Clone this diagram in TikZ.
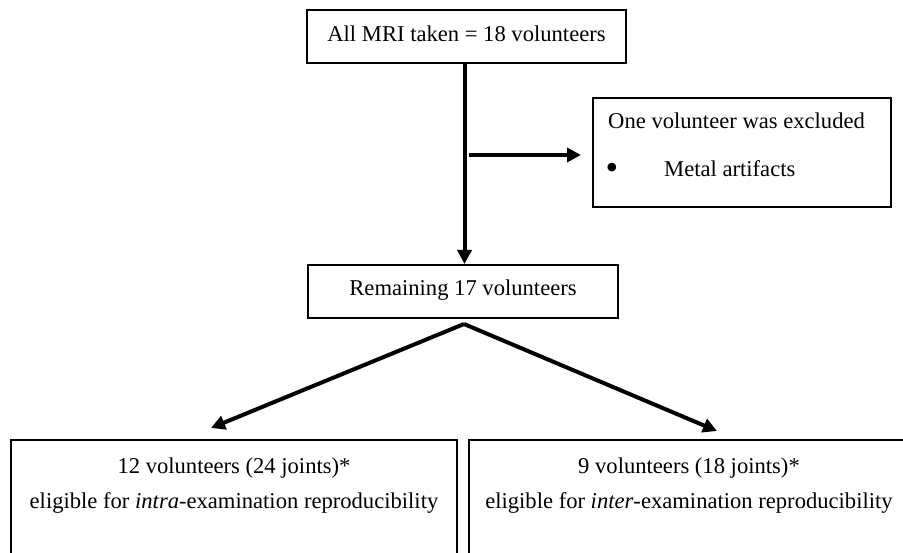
\documentclass[tikz,border=0pt]{standalone}
\usepackage{fontspec}
\setmainfont{Liberation Serif}
\usetikzlibrary{arrows.meta}
\begin{document}
\begin{tikzpicture}[x=1pt,y=-1pt,
  box/.style={draw, line width=2pt, inner sep=0pt},
  txt/.style={inner sep=0pt, font=\fontsize{22.6pt}{26pt}\selectfont},
  conn/.style={line width=4pt, -{Triangle[length=14pt,width=14pt]}}]
\useasboundingbox (0,0) rectangle (903,553);
\clip (0,0) rectangle (903,553);
% boxes
\node[box, minimum width=319pt, minimum height=53pt] (top) at (466.5,36.5) {};
\node[txt, anchor=base] (toptxt) at (466.5,42) {All MRI taken = 18 volunteers};
\node[box, minimum width=310pt, minimum height=53pt] (rem) at (463,291.5) {};
\node[txt, anchor=base] (remtxt) at (463,296) {Remaining 17 volunteers};
\node[box, minimum width=298pt, minimum height=109pt] (excl) at (742,152.5) {};
\node[txt, anchor=base west] (excla) at (608,129) {One volunteer was excluded};
\node[txt, anchor=center, font=\fontsize{36pt}{40pt}\selectfont] (exclb) at (612,171) {•};
\node[txt, anchor=base west] (exclc) at (664,177) {Metal artifacts};
\node[box, minimum width=446pt, minimum height=160pt] (left) at (234,520) {};
\node[txt, anchor=base] (lefta) at (234,473) {12 volunteers (24 joints)*};
\node[txt, anchor=base] (leftb) at (234,508) {eligible for \textit{intra}-examination reproducibility};
\node[box, minimum width=440pt, minimum height=160pt] (right) at (689,520) {};
\node[txt, anchor=base] (righta) at (689,473) {9 volunteers (18 joints)*};
\node[txt, anchor=base] (rightb) at (689,508) {eligible for \textit{inter}-examination reproducibility};
% connectors
\coordinate (vx) at (464.5,0);
\draw[conn] (top.south -| vx) -- (rem.north -| vx);
\coordinate (split) at (464.5,155);
\draw[conn, shorten <=4pt, shorten >=11pt] (split) -- (split -| excl.west);
\coordinate (apex) at (464,324);
\coordinate (tipL) at (211,428);
\coordinate (tipR) at (717,431);
\draw[conn] (apex) -- (tipL);
\draw[conn] (apex) -- (tipR);
\end{tikzpicture}
\end{document}
